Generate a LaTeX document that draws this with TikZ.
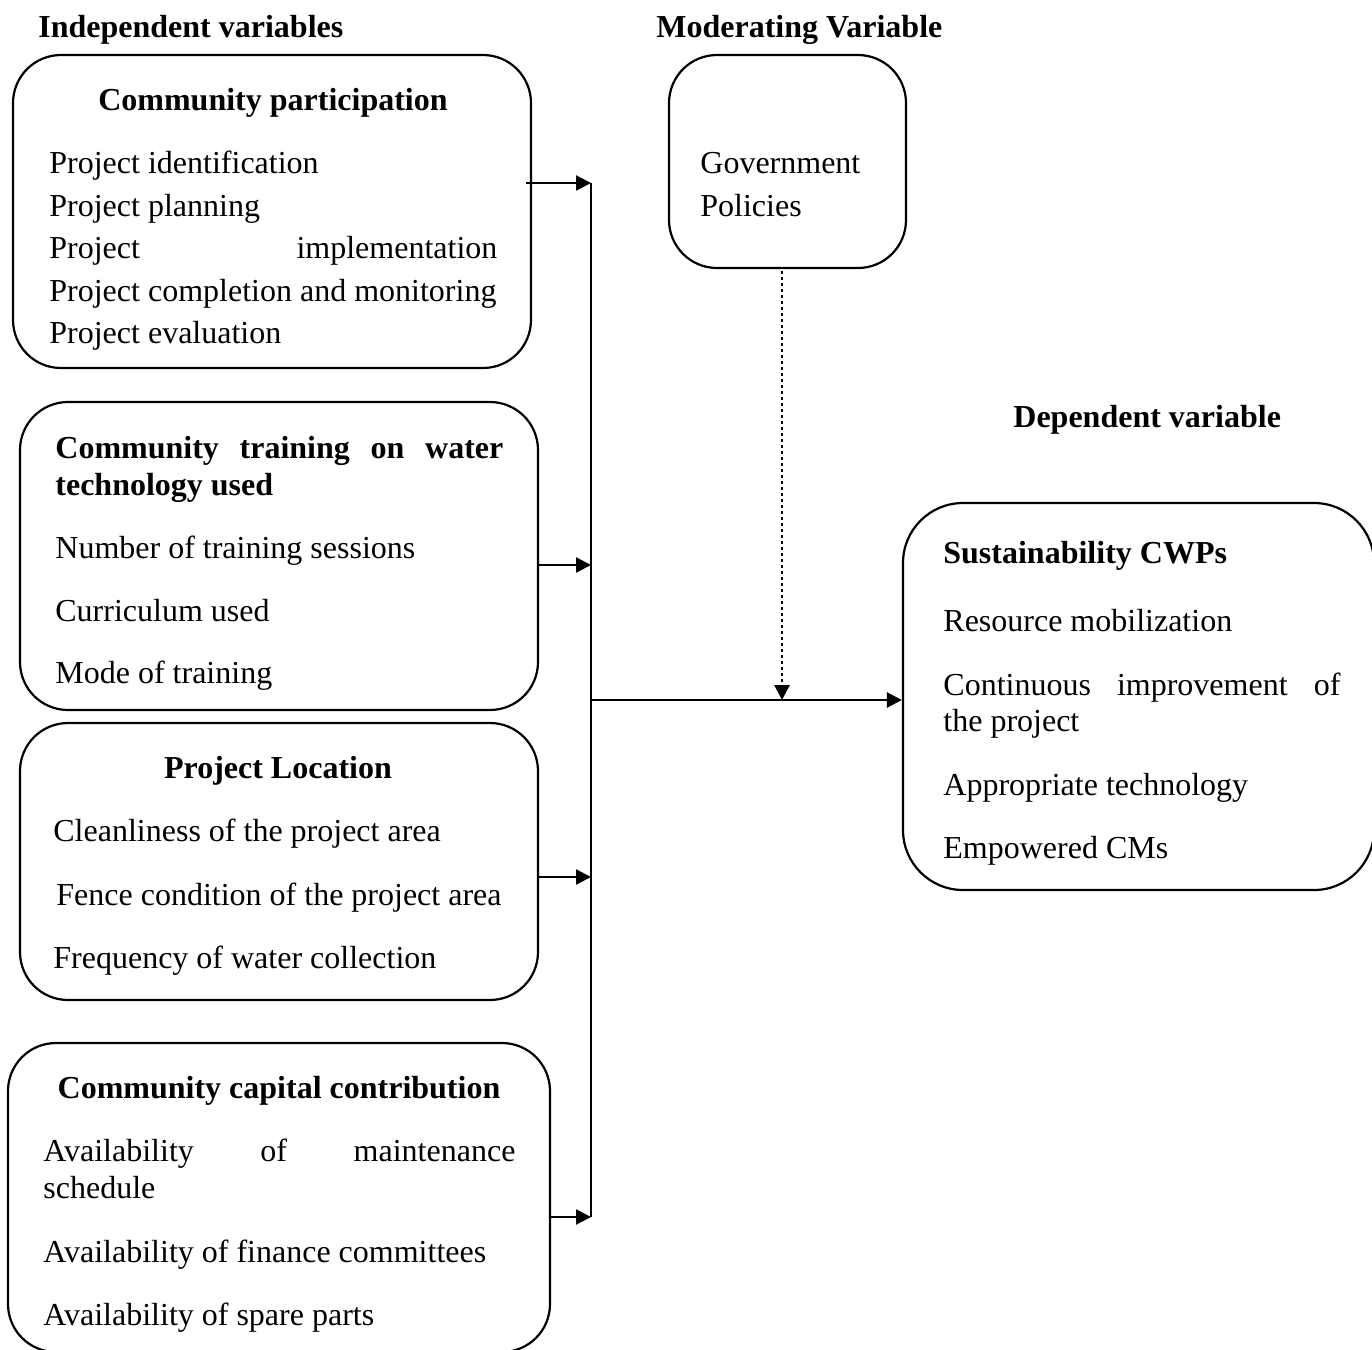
\documentclass[tikz,border=0pt]{standalone}
\usepackage{fontspec}
\setmainfont{Liberation Serif}
\usetikzlibrary{arrows.meta,positioning,fit}

\newcommand{\spreadline}[2]{\makebox[#1][s]{#2}}

\begin{document}
\begin{tikzpicture}[x=0.5pt,y=-0.5pt,
    box/.style={draw,line width=1.1pt,rounded corners=24pt,inner sep=0pt},
    txt/.style={anchor=base west,inner sep=0pt,font=\fontsize{16}{21}\selectfont},
    ttl/.style={txt,font=\fontsize{16}{21}\selectfont\bfseries},
    link/.style={line width=1.2pt},
    arr/.style={link,-{Triangle[length=7.5pt,width=7.5pt]}},
    dots/.style={arr,line width=1.4pt,dash pattern=on 1.4pt off 1.6pt}]
    \useasboundingbox[fill=white] (0,0) rectangle (1372,1350);

    \node[ttl] (hind) at (38,37) {Independent variables};
    \node[ttl] (hmod) at (656,37) {Moderating Variable};
    \node[ttl] (hdep) at (1013,427) {Dependent variable};

    \node[box,fit={(13,55) (531,368)}] (cp) {};
    \node[ttl,anchor=base] (cpt) at (273,110) {Community participation};
    \node[txt] (cp1) at (49,173) {Project identification};
    \node[txt] (cp2) at (49,216) {Project planning};
    \node[txt] (cp3) at (49,258) {\spreadline{224pt}{Project implementation}};
    \node[txt] (cp4) at (49,301) {Project completion and monitoring};
    \node[txt] (cp5) at (49,343) {Project evaluation};

    \node[box,fit={(20,402) (538,710)}] (ct) {};
    \node[ttl] (ctt) at (55,458) {\spreadline{224pt}{Community training on water}};
    \node[ttl] (ctu) at (55,495) {technology used};
    \node[txt] (ct1) at (55,558) {Number of training sessions};
    \node[txt] (ct2) at (55,621) {Curriculum used};
    \node[txt] (ct3) at (55,683) {Mode of training};

    \node[box,fit={(20,723) (538,1000)}] (pl) {};
    \node[ttl,anchor=base] (plt) at (278,778) {Project Location};
    \node[txt] (pl1) at (53,841) {Cleanliness of the project area};
    \node[txt] (pl2) at (56,905) {Fence condition of the project area};
    \node[txt] (pl3) at (53,968) {Frequency of water collection};

    \node[box,fit={(8,1043) (550,1352)}] (cc) {};
    \node[ttl,anchor=base] (cct) at (279,1098) {Community capital contribution};
    \node[txt] (cc1) at (43,1161) {\spreadline{236pt}{Availability of maintenance}};
    \node[txt] (cc2) at (43,1198) {schedule};
    \node[txt] (cc3) at (43,1262) {Availability of finance committees};
    \node[txt] (cc4) at (43,1325) {Availability of spare parts};

    \node[box,fit={(669,55) (906,268)}] (gp) {};
    \node[txt] (gp1) at (700,173) {Government};
    \node[txt] (gp2) at (700,216) {Policies};

    \node[box,rounded corners=30pt,fit={(903,503) (1374,890)}] (sc) {};
    \node[ttl] (sct) at (943,563) {Sustainability CWPs};
    \node[txt] (sc1) at (943,631) {Resource mobilization};
    \node[txt] (sc2) at (943,695) {\spreadline{198.5pt}{Continuous improvement of}};
    \node[txt] (sc3) at (943,731) {the project};
    \node[txt] (sc4) at (943,795) {Appropriate technology};
    \node[txt] (sc5) at (943,858) {Empowered CMs};

    \coordinate (j1) at (591,183);
    \coordinate (j2) at (591,565);
    \coordinate (j3) at (591,877);
    \coordinate (j4) at (591,1217);
    \coordinate (jm) at (591,700);
    \coordinate (dm) at (782,700);

    \draw[arr] ([xshift=-3pt]cp.east |- j1) -- (j1);
    \draw[arr] (ct.east |- j2) -- (j2);
    \draw[arr] (pl.east |- j3) -- (j3);
    \draw[arr] (cc.east |- j4) -- (j4);
    \draw[link] (j1) -- (j4);
    \draw[arr] (jm) -- (sc.west |- jm);
    \draw[dots] ([yshift=-1pt]dm |- gp.south) -- (dm);
\end{tikzpicture}
\end{document}
